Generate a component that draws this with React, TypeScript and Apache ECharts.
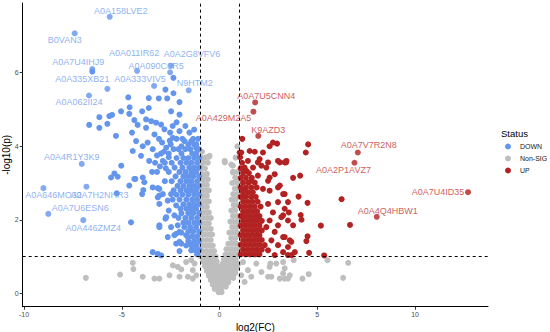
import React, { useEffect, useRef } from "react";
import * as echarts from "echarts";

// ---------- data ----------
const xTicks = [-10, -5, 0, 5, 10];
const yTicks = [0, 2, 4, 6];
const statusNames = ["DOWN", "Non-SIG", "UP"];
const xTitle = "log2(FC)";
const yTitle = "-log10(p)";
const legendTitle = "Status";

const labelNames = [
  "A0A158LVE2", "B0VAN3", "A0A7U4IHJ9", "A0A011IR62", "A0A2G8VFV6", "A0A090C0R5",
  "A0A335XB21", "A0A333VIV5", "N9HTM2", "A0A062II24", "A0A4R1Y3K9", "A0A646MO32",
  "A0A7H2NHR3", "A0A7U6ESN6", "A0A446ZMZ4",
  "A0A7U5CNN4", "A0A429M2A5", "K9AZD3", "A0A7V7R2N8", "A0A2P1AVZ7", "A0A7U4ID35", "A0A4Q4HBW1",
];
const labelX = [
  -5.62, -7.41, -6.51, -4.22, -2.48, -2.53, -5.74, -3.35, -1.58, -6.68, -7.05, -9.01,
  -6.81, -8.76, -6.97,
  1.82, 1.73, 1.98, 7.07, 6.9, 12.71, 8.04,
];
const labelY = [
  7.52, 7.07, 6.1, 6.05, 6.19, 6.01, 5.56, 5.64, 5.52, 5.38, 3.52, 2.86,
  2.9, 2.16, 1.99,
  5.19, 4.94, 4.28, 3.83, 3.55, 2.75, 2.08,
];
const labelStatus = [
  "DOWN", "DOWN", "DOWN", "DOWN", "DOWN", "DOWN", "DOWN", "DOWN", "DOWN", "DOWN", "DOWN", "DOWN",
  "DOWN", "DOWN", "DOWN",
  "UP", "UP", "UP", "UP", "UP", "UP", "UP",
];

const downPoints: [number, number][] = [
  [-6.51, 6.03], [-2.36, 5.86], [-5.26, 2.72],
  [-5.03, 3.47], [-5.38, 3.26], [-5.55, 3.15], [-5.21, 3.17], [-4.31, 3.11], [-4.62, 2.93],
  [-3.96, 2.7], [-3.9, 2.81], [-3.42, 2.88], [-3.16, 2.86], [-3.08, 2.66], [-4.53, 1.93],
  [-3.08, 1.8], [-2.77, 2.03], [-2.6, 2.25], [-2.65, 1.53], [-2.22, 1.62], [-3.42, 1.12],
  [-3.16, 1.07], [-2.99, 1.03], [-2.05, 1.15], [-2.22, 1.35], [-1.96, 1.65], [-1.54, 1.35],
  [-1.11, 1.12], [-1.71, 1.58],
  [-6.15, 4.79], [-5.64, 4.82], [-5.5, 4.85], [-6.67, 4.58], [-6.15, 4.5], [-5.74, 4.61],
  [-5.04, 4.95], [-5.3, 4.28], [-4.67, 5.33], [-4.62, 4.88], [-4.6, 5.06], [-4.36, 4.71],
  [-4.19, 4.58], [-3.96, 4.95], [-3.76, 4.73], [-3.62, 5.31], [-3.62, 5.04], [-3.11, 5.3],
  [-2.77, 5.54], [-2.68, 5.3], [-2.36, 5.44], [-2.05, 5.2], [-2.48, 4.95], [-2.05, 4.86],
  [-3.25, 4.64], [-2.99, 4.59], [-3.5, 4.68], [-3.76, 4.5], [-4.27, 4.14], [-4.48, 4.37],
  [-3.93, 4.0], [-3.68, 4.1], [-3.33, 4.32], [-2.82, 4.46], [-2.53, 4.37], [-2.39, 4.23],
  [-2.05, 4.41], [-1.79, 4.14], [-1.54, 4.37], [-1.45, 4.14], [-1.19, 4.05], [-2.94, 4.1],
  [-2.73, 3.96], [-3.42, 3.92], [-4.02, 3.74], [-4.44, 3.87],
  [-4.36, 3.11], [-3.93, 3.15], [-3.85, 3.02], [-3.08, 2.84], [-2.9, 2.7], [-3.16, 2.61],
  [-2.65, 2.52], [-2.48, 2.7], [-3.08, 2.43], [-2.22, 2.39], [-2.73, 2.07], [-2.31, 2.12],
  [-3.08, 1.85], [-2.48, 1.8], [-2.14, 1.85], [-2.05, 1.67], [-2.31, 1.58], [-2.05, 1.4],
  [-1.62, 1.53], [-1.96, 1.35], [-1.45, 1.17], [-1.71, 1.3],
  [-2.6, 3.7], [-2.9, 3.6], [-3.2, 3.75], [-2.75, 3.4], [-3.05, 3.45], [-3.3, 3.55],
  [-2.55, 4.15], [-2.85, 3.85], [-3.6, 3.6], [-3.1, 4.2], [-3.45, 3.3], [-2.4, 4.55],
  [-1.75, 4.55], [-1.3, 4.45], [-2.2, 4.65], [-1.95, 4.0], [-1.2, 3.95],
  [-1.1, 4.2], [-1.35, 4.2], [-1.9, 4.2], [-2.2, 4.2],
  [-1.3, 4.05], [-1.6, 4.05], [-2.5, 4.05],
  [-1.05, 3.92], [-1.5, 3.92], [-1.75, 3.92], [-2.1, 3.92], [-2.35, 3.92],
  [-1.2, 3.8], [-1.4, 3.8], [-1.95, 3.8], [-2.6, 3.8], [-3.0, 3.8],
  [-1.05, 3.68], [-1.3, 3.68], [-1.6, 3.68], [-1.85, 3.68], [-2.2, 3.68],
  [-1.15, 3.55], [-1.45, 3.55], [-1.7, 3.55], [-2.0, 3.55], [-2.45, 3.55], [-2.8, 3.55],
  [-1.05, 3.42], [-1.3, 3.42], [-1.55, 3.42], [-1.9, 3.42], [-2.3, 3.42],
  [-1.2, 3.3], [-1.45, 3.3], [-1.75, 3.3], [-2.05, 3.3], [-2.6, 3.3], [-3.2, 3.3],
  [-1.05, 3.18], [-1.35, 3.18], [-1.6, 3.18], [-1.85, 3.18], [-2.25, 3.18],
  [-1.15, 3.05], [-1.45, 3.05], [-1.7, 3.05], [-2.0, 3.05], [-2.45, 3.05], [-2.8, 3.05],
  [-1.05, 2.92], [-1.3, 2.92], [-1.55, 2.92], [-1.85, 2.92], [-2.15, 2.92],
  [-1.2, 2.8], [-1.45, 2.8], [-1.7, 2.8], [-2.0, 2.8], [-2.35, 2.8],
  [-1.05, 2.68], [-1.3, 2.68], [-1.6, 2.68], [-1.9, 2.68], [-2.2, 2.68],
  [-1.15, 2.55], [-1.4, 2.55], [-1.7, 2.55], [-2.05, 2.55], [-2.4, 2.55],
  [-1.05, 2.42], [-1.3, 2.42], [-1.55, 2.42], [-1.85, 2.42],
  [-1.2, 2.3], [-1.45, 2.3], [-1.7, 2.3], [-2.0, 2.3],
  [-1.05, 2.18], [-1.35, 2.18], [-1.6, 2.18], [-1.95, 2.18],
  [-1.15, 2.05], [-1.45, 2.05], [-1.75, 2.05], [-2.1, 2.05],
  [-1.05, 1.92], [-1.3, 1.92], [-1.6, 1.92], [-1.85, 1.92],
  [-1.2, 1.8], [-1.5, 1.8], [-1.8, 1.8],
  [-1.05, 1.68], [-1.35, 1.68], [-1.6, 1.68],
  [-1.15, 1.55], [-1.4, 1.55],
  [-1.05, 1.42], [-1.3, 1.42], [-1.6, 1.42],
  [-1.2, 1.3], [-1.45, 1.3],
  [-1.05, 1.18], [-1.3, 1.18],
  [-1.15, 1.06],
];

const upPoints: [number, number][] = [
  [6.24, 2.56], [5.18, 1.84], [6.67, 1.86], [5.35, 1.03], [4.58, 1.1], [4.12, 3.2], [3.76, 3.14],
  [4.5, 2.46], [4.04, 2.63], [4.15, 2.13], [4.19, 2.0], [4.5, 1.55], [4.44, 1.42], [3.59, 1.44],
  [3.67, 1.4], [3.25, 1.53], [3.5, 1.04], [3.68, 1.04], [3.54, 2.2], [3.25, 2.12], [3.5, 2.48],
  [3.25, 2.7], [4.53, 4.05], [4.41, 3.83], [3.4, 3.56], [3.08, 3.56],
  [1.16, 4.2], [2.73, 4.1], [2.94, 4.07], [2.56, 4.0], [1.54, 3.87], [1.8, 3.85], [1.11, 3.83],
  [2.22, 3.83], [2.99, 3.6], [3.42, 3.6], [1.45, 3.6], [2.05, 3.65], [2.39, 3.42], [1.37, 3.33],
  [1.96, 3.2], [2.56, 3.15], [1.62, 3.06], [2.99, 2.88], [1.2, 2.79], [2.22, 2.84], [3.33, 2.7],
  [1.03, 3.83], [1.96, 3.56], [2.48, 3.56], [3.33, 3.56], [1.28, 3.42], [1.71, 3.42], [2.14, 3.47],
  [2.82, 3.24], [2.48, 3.06], [3.08, 2.93], [2.56, 2.79], [2.99, 2.48], [2.48, 2.43], [3.33, 2.3],
  [2.73, 2.2], [3.16, 2.07], [2.56, 1.98], [3.5, 1.98], [2.99, 1.85], [2.39, 1.8], [3.76, 1.85],
  [2.82, 1.67], [3.33, 1.53], [2.65, 1.44], [2.31, 1.31], [2.99, 1.31], [3.5, 1.26], [2.48, 1.17],
  [3.25, 1.12], [3.85, 1.12], [2.82, 1.04],
  [1.08, 1.06], [1.32, 1.06], [1.56, 1.06], [1.8, 1.06], [2.04, 1.06],
  [1.2, 1.19], [1.44, 1.19], [1.68, 1.19], [1.92, 1.19], [2.16, 1.19],
  [1.08, 1.32], [1.32, 1.32], [1.56, 1.32], [1.8, 1.32], [2.04, 1.32],
  [1.2, 1.45], [1.44, 1.45], [1.68, 1.45], [1.92, 1.45], [2.16, 1.45],
  [1.08, 1.58], [1.32, 1.58], [1.56, 1.58], [1.8, 1.58], [2.04, 1.58],
  [1.2, 1.71], [1.44, 1.71], [1.68, 1.71], [1.92, 1.71], [2.16, 1.71],
  [1.08, 1.84], [1.32, 1.84], [1.56, 1.84], [1.8, 1.84], [2.04, 1.84],
  [1.2, 1.97], [1.44, 1.97], [1.68, 1.97], [1.92, 1.97], [2.16, 1.97],
  [1.08, 2.1], [1.32, 2.1], [1.56, 2.1], [1.8, 2.1], [2.04, 2.1],
  [1.2, 2.23], [1.44, 2.23], [1.68, 2.23], [1.92, 2.23],
  [1.08, 2.36], [1.32, 2.36], [1.56, 2.36], [1.8, 2.36], [2.1, 2.36],
  [1.2, 2.49], [1.44, 2.49], [1.68, 2.49], [1.95, 2.49],
  [1.08, 2.62], [1.32, 2.62], [1.6, 2.62], [1.85, 2.62],
  [1.2, 2.75], [1.45, 2.75], [1.7, 2.75],
  [1.08, 2.88], [1.35, 2.88], [1.62, 2.88], [1.9, 2.88],
  [1.2, 3.01], [1.48, 3.01], [1.8, 3.01],
  [1.08, 3.14], [1.35, 3.14], [1.65, 3.14],
  [1.2, 3.27], [1.5, 3.27],
  [1.08, 3.4], [1.15, 3.55], [1.05, 3.7],
];

const nonSigPoints: [number, number][] = [
  [-4.44, 0.83], [-4.41, 0.66], [-5.09, 0.51], [-6.84, 0.42], [-3.93, 0.45], [-3.33, 0.4],
  [-3.08, 0.4], [-2.39, 0.76], [-2.14, 0.72], [-1.96, 0.65], [-2.05, 0.45], [-1.62, 0.45],
  [-1.37, 0.63], [-1.28, 0.81], [-1.45, 0.9], [-2.56, 0.49], [-1.71, 0.85], [-1.19, 0.49],
  [-1.37, 0.4],
  [2.6, 0.81], [2.9, 0.81], [2.65, 0.45], [3.25, 0.85], [3.33, 0.68], [3.25, 0.54], [3.33, 0.4],
  [3.5, 0.4], [3.79, 0.9], [4.24, 0.4], [4.56, 0.52], [5.52, 0.9], [6.58, 0.83], [6.32, 0.42],
  [1.2, 0.85], [1.88, 0.81], [2.14, 0.58], [2.56, 0.72], [2.48, 0.45], [3.08, 0.4], [1.45, 0.63],
  [1.62, 0.45], [1.28, 0.31], [1.11, 0.49], [3.59, 0.49],
  [-0.86, 3.6], [0.26, 3.6], [0.68, 3.47], [0.82, 3.69], [-0.51, 3.74], [0.68, 3.29], [0.85, 3.06],
  [-0.77, 3.15], [0.91, 4.0], [-0.55, 3.71], [-0.94, 3.43], [0.27, 3.56], [0.6, 3.5],
  [-0.9, 3.85],
  [-0.95, 3.7], [-0.7, 3.7],
  [-0.85, 3.55], [-0.6, 3.55],
  [-0.95, 3.4], [-0.75, 3.4],
  [-0.9, 3.25], [-0.65, 3.25],
  [-0.95, 3.1], [-0.8, 3.1], [-0.6, 3.1],
  [-0.85, 2.95], [-0.65, 2.95],
  [-0.95, 2.8], [-0.75, 2.8], [-0.55, 2.8],
  [-0.85, 2.65], [-0.65, 2.65],
  [-0.95, 2.5], [-0.75, 2.5], [-0.55, 2.5],
  [-0.85, 2.35], [-0.65, 2.35],
  [-0.95, 2.2], [-0.75, 2.2], [-0.55, 2.2],
  [-0.85, 2.05], [-0.65, 2.05], [-0.45, 2.05],
  [-0.95, 1.9], [-0.75, 1.9], [-0.55, 1.9],
  [-0.85, 1.75], [-0.65, 1.75], [-0.45, 1.75],
  [-0.95, 1.6], [-0.75, 1.6], [-0.55, 1.6], [-0.38, 1.6],
  [-0.85, 1.45], [-0.65, 1.45], [-0.45, 1.45],
  [-0.95, 1.3], [-0.75, 1.3], [-0.55, 1.3], [-0.35, 1.3],
  [-0.85, 1.15], [-0.65, 1.15], [-0.45, 1.15], [-0.28, 1.15],
  [-0.95, 1.0], [-0.75, 1.0], [-0.55, 1.0], [-0.38, 1.0], [-0.2, 1.0],
  [-0.85, 0.87], [-0.65, 0.87], [-0.45, 0.87], [-0.3, 0.87], [-0.15, 0.87],
  [-0.75, 0.74], [-0.55, 0.74], [-0.4, 0.74], [-0.25, 0.74], [-0.1, 0.74],
  [-0.65, 0.61], [-0.5, 0.61], [-0.35, 0.61], [-0.2, 0.61], [-0.05, 0.61],
  [-0.55, 0.48], [-0.4, 0.48], [-0.25, 0.48], [-0.1, 0.48],
  [-0.45, 0.36], [-0.3, 0.36], [-0.15, 0.36], [0, 0.36],
  [-0.35, 0.24], [-0.2, 0.24], [-0.05, 0.24],
  [-0.25, 0.12], [-0.1, 0.12], [0.05, 0.12],
  [-0.05, 0.03], [0.1, 0.03],
  [0.7, 3.3], [0.92, 3.3],
  [0.8, 3.15],
  [0.65, 3.0], [0.9, 3.0],
  [0.78, 2.85], [0.95, 2.85],
  [0.7, 2.7], [0.9, 2.7],
  [0.62, 2.55], [0.82, 2.55],
  [0.72, 2.4], [0.92, 2.4],
  [0.6, 2.25], [0.8, 2.25],
  [0.68, 2.1], [0.9, 2.1],
  [0.55, 1.95], [0.75, 1.95], [0.95, 1.95],
  [0.65, 1.8], [0.85, 1.8],
  [0.5, 1.65], [0.7, 1.65], [0.9, 1.65],
  [0.6, 1.5], [0.8, 1.5],
  [0.45, 1.35], [0.65, 1.35], [0.85, 1.35],
  [0.35, 1.2], [0.55, 1.2], [0.75, 1.2], [0.95, 1.2],
  [0.3, 1.05], [0.5, 1.05], [0.7, 1.05], [0.9, 1.05],
  [0.22, 0.92], [0.42, 0.92], [0.62, 0.92], [0.82, 0.92],
  [0.15, 0.8], [0.35, 0.8], [0.55, 0.8], [0.75, 0.8], [0.95, 0.8],
  [0.1, 0.68], [0.28, 0.68], [0.48, 0.68], [0.68, 0.68], [0.88, 0.68],
  [0.05, 0.55], [0.22, 0.55], [0.4, 0.55], [0.6, 0.55], [0.8, 0.55],
  [0.1, 0.42], [0.3, 0.42], [0.5, 0.42], [0.7, 0.42],
  [0.08, 0.3], [0.25, 0.3], [0.45, 0.3],
  [0.15, 0.18], [0.32, 0.18],
];

// ---------- styles ----------
const COLORS: Record<string, string> = { DOWN: "#6495ED", "Non-SIG": "#BEBEBE", UP: "#B22222" };
const LABEL_COLORS: Record<string, string> = { DOWN: "#6f9cee", UP: "#bf3030" };
// text offsets (px) of each gene label from its point
const labelOffsets: [number, number][] = [
  [11, -6], [-10, 7], [-14, -7], [-3, -18], [21, -12], [-14, -6], [-25, -10], [-14, -7], [6, -7],
  [-10, 7], [-10, -7], [10, 7], [13, 8], [32, -6], [10, 8],
  [11, -6], [-30, 6], [10, -6], [11, -7], [-11, 7], [-30, 0], [11, -6],
];
const FONT = "'Liberation Sans', Arial, Helvetica, sans-serif";
const SYM = 6;

export default function App() {
  const ref = useRef<HTMLDivElement>(null);
  useEffect(() => {
    if (!ref.current) return;
    const chart = echarts.init(ref.current, null, { renderer: "svg" });
    const labelData = labelNames.map((n, i) => ({
      value: [labelX[i], labelY[i]],
      name: n,
      itemStyle: { color: COLORS[labelStatus[i]] },
      label: {
        show: true,
        formatter: n,
        position: "inside",
        offset: labelOffsets[i],
        color: LABEL_COLORS[labelStatus[i]],
        fontSize: 9,
        fontFamily: FONT,
      },
    }));
    chart.setOption({
      animation: false,
      textStyle: { fontFamily: FONT },
      grid: {
        left: 22.7,
        top: 3,
        width: 465.3,
        height: 303.7,
        containLabel: false,
        outerBoundsMode: "none",
      },
      xAxis: {
        type: "value",
        min: -10.07,
        max: 13.73,
        name: xTitle,
        nameLocation: "middle",
        nameGap: 12,
        nameTextStyle: { fontSize: 10, color: "#000", fontFamily: FONT },
        splitLine: { show: false },
        axisLine: { onZero: false, lineStyle: { color: "#000", width: 1 } },
        axisTick: { customValues: xTicks, length: 3, lineStyle: { color: "#333" } },
        axisLabel: { customValues: xTicks, fontSize: 7, color: "#4d4d4d", margin: 4 },
      },
      yAxis: {
        type: "value",
        min: -0.364,
        max: 7.895,
        name: yTitle,
        nameLocation: "middle",
        nameGap: 11,
        nameMoveOverlap: false,
        nameTextStyle: { fontSize: 10, color: "#000", fontFamily: FONT },
        splitLine: { show: false },
        axisLine: { show: true, onZero: false, lineStyle: { color: "#000", width: 1 } },
        axisTick: { show: true, customValues: yTicks, length: 3, lineStyle: { color: "#333" } },
        axisLabel: { customValues: yTicks, fontSize: 7, color: "#4d4d4d", margin: 4 },
      },
      legend: {
        data: statusNames,
        orient: "vertical",
        left: 505,
        top: 143,
        padding: 0,
        icon: "circle",
        itemWidth: 6,
        itemHeight: 6,
        itemGap: 5,
        textStyle: { fontSize: 7, color: "#1a1a1a", fontFamily: FONT, padding: [0, 0, 0, 4] },
      },
      graphic: [
        {
          type: "text",
          left: 501,
          top: 128,
          style: { text: legendTitle, fontSize: 9.5, fill: "#000", fontFamily: FONT },
        },
      ],
      series: [
        {
          name: "Non-SIG",
          type: "scatter",
          symbolSize: SYM,
          itemStyle: { color: COLORS["Non-SIG"], opacity: 1 },
          data: nonSigPoints,
        },
        {
          name: "DOWN",
          type: "scatter",
          symbolSize: SYM,
          itemStyle: { color: COLORS.DOWN, opacity: 1 },
          data: downPoints,
        },
        {
          name: "UP",
          type: "scatter",
          symbolSize: SYM,
          itemStyle: { color: COLORS.UP, opacity: 1 },
          data: upPoints,
        },
        {
          name: "labels",
          type: "scatter",
          symbolSize: SYM,
          data: labelData,
          z: 5,
          markLine: {
            silent: true,
            symbol: "none",
            label: { show: false },
            lineStyle: { type: [3, 3], color: "#000", width: 1 },
            data: [{ xAxis: -1 }, { xAxis: 1 }, { yAxis: 1 }],
          },
        },
      ],
    });
    return () => chart.dispose();
  }, []);
  return (
    <div
      ref={ref}
      style={{ position: "fixed", left: 0, top: 0, width: 550, height: 332, background: "#fff" }}
    />
  );
}
